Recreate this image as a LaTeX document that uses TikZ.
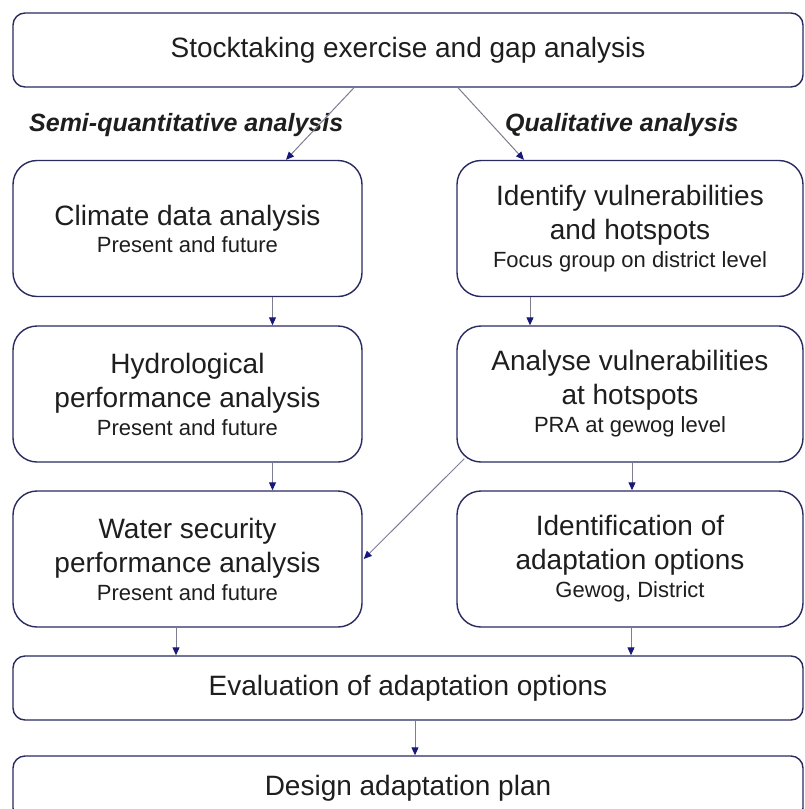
\documentclass[tikz,border=0pt]{standalone}
\usepackage{fontspec}
\setmainfont{Liberation Sans}
\usetikzlibrary{arrows.meta,calc}
\definecolor{boxcol}{RGB}{40,42,96}
\definecolor{tipcol}{RGB}{24,24,120}
\definecolor{linecol}{RGB}{125,125,145}
\definecolor{txtcol}{RGB}{30,30,30}
\newcommand{\ttlfont}{\fontsize{28}{34}\selectfont}
\newcommand{\subfont}{\fontsize{22}{26}\selectfont}
\newcommand{\labfont}{\fontsize{25}{30}\selectfont\bfseries\itshape}
\begin{document}
\begin{tikzpicture}[x=1pt,y=-1pt,
  box/.style={draw=boxcol, line width=1.4pt, fill=white, align=center, text=txtcol, inner sep=0pt, font=\ttlfont},
  colbox/.style={box, rounded corners=24pt, minimum height=136pt},
  leftbox/.style={colbox, minimum width=349pt},
  rightbox/.style={colbox, minimum width=346pt},
  widebox/.style={box, rounded corners=12pt, minimum width=790pt},
  arr/.style={draw=linecol, line width=1pt, -{Triangle[length=8pt,width=7pt,color=tipcol]}},
  lab/.style={font=\labfont, text=txtcol, anchor=base west, inner sep=0pt}]
\useasboundingbox (0,0) rectangle (805,809);
\clip (0,0) rectangle (805,809);

\node[widebox, minimum height=74pt] (stock) at (408,50) {\raisebox{-2pt}{Stocktaking exercise and gap analysis}};

\node[lab] (semi) at (29,131) {Semi-quantitative analysis};
\node[lab] (qual) at (505,131) {Qualitative analysis};

\node[leftbox] (climate) at (187.5,228.5) {Climate data analysis\\[-7pt]{\subfont Present and future}};
\node[leftbox] (hydro) at (187.5,394) {Hydrological\\performance analysis\\[-6pt]{\subfont Present and future}};
\node[leftbox] (water) at (187.5,559) {Water security\\performance analysis\\[-6pt]{\subfont Present and future}};

\node[rightbox] (identify) at (630,228.5) {Identify vulnerabilities\\and hotspots\\[-6pt]{\subfont Focus group on district level}};
\node[rightbox] (analyse) at (630,394) {Analyse vulnerabilities\\at hotspots\\[-6pt]{\subfont PRA at gewog level}};
\node[rightbox] (options) at (630,559) {Identification of\\adaptation options\\[-6pt]{\subfont Gewog, District}};

\node[widebox, minimum height=64pt] (eval) at (408,688) {\raisebox{-2pt}{Evaluation of adaptation options}};
\node[widebox, minimum height=64pt] (design) at (408,788) {Design adaptation plan};

\draw[arr] ([xshift=-54pt]stock.south) -- ([xshift=98.5pt]climate.north);
\draw[arr] ([xshift=50pt]stock.south) -- ([xshift=-106pt]identify.north);
\draw[arr] ([xshift=85pt]climate.south) -- ([xshift=85pt]hydro.north);
\draw[arr] ([xshift=85pt]hydro.south) -- ([xshift=85pt]water.north);
\draw[arr] ([xshift=-100pt]identify.south) -- ([xshift=-100pt]analyse.north);
\draw[arr] ([xshift=2pt]analyse.south) -- ([xshift=2pt]options.north);
\draw[arr] ([xshift=8pt,yshift=4pt]analyse.south west) -- ([xshift=1pt]water.east);
\draw[arr] ([xshift=-11.5pt]water.south) -- ([xshift=-232pt]eval.north);
\draw[arr] ([xshift=1pt]options.south) -- ([xshift=223pt]eval.north);
\draw[arr] ([xshift=7pt]eval.south) -- ([xshift=7pt]design.north);
\end{tikzpicture}
\end{document}
